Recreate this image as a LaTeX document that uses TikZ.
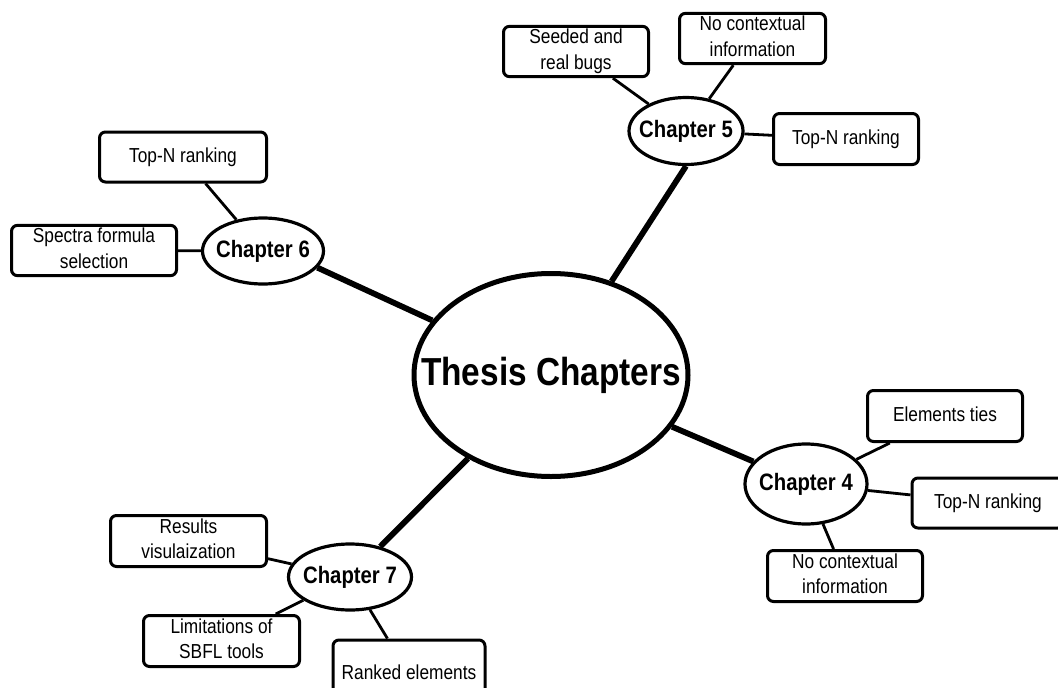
\documentclass[tikz,border=0pt]{standalone}
\usepackage{fontspec}
\setmainfont{Liberation Sans}
\usetikzlibrary{shapes.geometric}

% text set slightly taller than the font's natural shape
\newcommand{\tall}[1]{\scalebox{1}[1.17]{\begin{tabular}{@{}c@{}}#1\end{tabular}}}
% text that must not enlarge the ellipse around it
\newcommand{\zerowide}[1]{\makebox[0pt]{\scalebox{1}[1.17]{#1}}}

\tikzset{
  topic/.style={draw, line width=3pt, rounded corners=6pt, fill=white,
    align=center, inner sep=0pt, font=\fontsize{17.3}{21.5}\selectfont},
  chapter/.style={ellipse, draw, line width=3.2pt, fill=white, inner sep=0pt,
    font=\bfseries\fontsize{20.3}{24}\selectfont},
  hub/.style={ellipse, draw, line width=5pt, fill=white, inner sep=0pt,
    font=\bfseries\fontsize{33.4}{40}\selectfont},
  thin/.style={line width=2.8pt},
  spoke/.style={line width=5.8pt}
}

\begin{document}
\begin{tikzpicture}[x=1pt, y=-1pt]
  \useasboundingbox (0,0) rectangle (1058,688);
  \fill[white] (0,0) rectangle (1058,688);
  \clip (0,0) rectangle (1058,688);

  % central topic
  \node[hub, minimum width=274, minimum height=203] (main) at (551,375) {\zerowide{Thesis Chapters}};

  % chapters
  \node[chapter, minimum width=114, minimum height=67] (ch5) at (686,131) {\zerowide{Chapter 5}};
  \node[chapter, minimum width=121, minimum height=66] (ch6) at (263,251) {\zerowide{Chapter 6}};
  \node[chapter, minimum width=122, minimum height=80] (ch4) at (806,484) {\zerowide{Chapter 4}};
  \node[chapter, minimum width=123, minimum height=66] (ch7) at (350,577) {\zerowide{Chapter 7}};

  % chapter 5 topics
  \node[topic, minimum width=145, minimum height=50] (c5a) at (576,51.5) {\tall{Seeded and\\real bugs}};
  \node[topic, minimum width=146, minimum height=50] (c5b) at (752.5,38.5) {\tall{No contextual\\information}};
  \node[topic, minimum width=145, minimum height=51] (c5c) at (846,139) {\tall{Top-N ranking}};

  % chapter 6 topics
  \node[topic, minimum width=167, minimum height=50] (c6a) at (183,157) {\tall{Top-N ranking}};
  \node[topic, minimum width=165, minimum height=50] (c6b) at (94,250.5) {\tall{Spectra formula\\selection}};

  % chapter 4 topics
  \node[topic, minimum width=155, minimum height=51] (c4a) at (945,416) {\tall{Elements ties}};
  \node[topic, minimum width=152, minimum height=50] (c4b) at (988,503) {\tall{Top-N ranking}};
  \node[topic, minimum width=155, minimum height=51] (c4c) at (845,576) {\tall{No contextual\\information}};

  % chapter 7 topics
  \node[topic, minimum width=156, minimum height=51] (c7a) at (188.5,541) {\tall{Results\\visulaization}};
  \node[topic, minimum width=156, minimum height=51] (c7b) at (221.5,641) {\tall{Limitations of\\SBFL tools}};
  \node[topic, minimum width=152, minimum height=68] (c7c) at (409,674) {\tall{Ranked elements}};

  % spokes from the centre to each chapter
  \draw[spoke] (ch5.south) -- (main);
  \draw[spoke] (ch6.-17) -- (main);
  \draw[spoke] (ch4) -- (main);
  \draw[spoke] (ch7) -- (main);

  % branches from each chapter to its topics
  \draw[thin] (ch5) -- (c5a);
  \draw[thin] (ch5) -- (c5b);
  \draw[thin] (ch5) -- (c5c);
  \draw[thin] (ch6) -- (c6a);
  \draw[thin] (ch6) -- (c6b);
  \draw[thin] (ch4) -- (c4a);
  \draw[thin] (ch4) -- (c4b);
  \draw[thin] (ch4) -- (c4c);
  \draw[thin] (ch7) -- (c7a);
  \draw[thin] (ch7) -- (c7b);
  \draw[thin] (ch7) -- (c7c);
\end{tikzpicture}
\end{document}
